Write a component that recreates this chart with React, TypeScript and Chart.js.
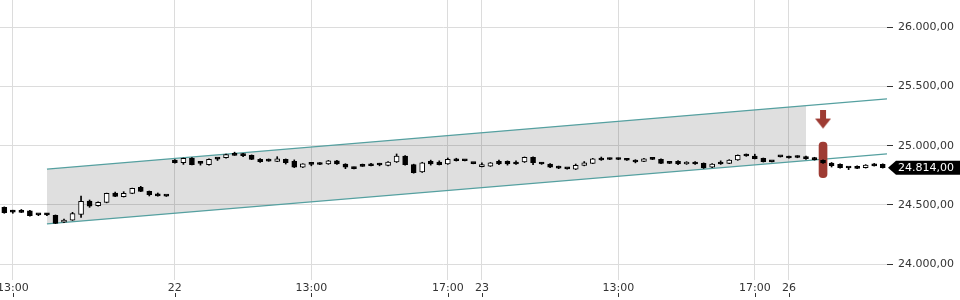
import React, { useEffect, useRef } from 'react';
import { Chart, registerables } from 'chart.js';

Chart.register(...registerables);

// 15-minute candles, index 0 = first visible candle (21st, ~12:45)
const opens = [
  24480, 24447, 24442, 24450, 24422, 24424, 24413, 24355, 24373, 24420,
  24533, 24494, 24522, 24601, 24570, 24598, 24649, 24615, 24593, 24578,
  24879, 24856, 24896, 24856, 24840, 24892, 24898, 24923, 24922, 24919,
  24885, 24874, 24868, 24885, 24868, 24818, 24847, 24846, 24845, 24873,
  24845, 24818, 24830, 24836, 24842, 24834, 24862, 24913, 24840, 24778,
  24868, 24862, 24845, 24890, 24878, 24853, 24823, 24828, 24868, 24868,
  24860, 24862, 24902, 24856, 24845, 24816, 24808, 24801, 24834, 24851,
  24896, 24887, 24887, 24881, 24879, 24868, 24896, 24885, 24862, 24868,
  24845, 24862, 24851, 24818, 24862, 24851, 24879, 24924, 24913, 24893,
  24867, 24909, 24900, 24904, 24907, 24898, 24876, 24854, 24843, 24816,
  24826, 24814, 24833, 24843,
];
const highs = [
  24484, 24456, 24462, 24454, 24424, 24430, 24416, 24382, 24438, 24575,
  24542, 24527, 24600, 24609, 24612, 24642, 24657, 24618, 24601, 24580,
  24883, 24896, 24900, 24868, 24890, 24894, 24928, 24945, 24935, 24922,
  24892, 24888, 24907, 24888, 24880, 24848, 24849, 24858, 24876, 24876,
  24848, 24820, 24845, 24850, 24852, 24865, 24930, 24916, 24844, 24860,
  24878, 24872, 24896, 24894, 24880, 24855, 24855, 24858, 24878, 24872,
  24872, 24905, 24905, 24858, 24848, 24828, 24812, 24845, 24866, 24893,
  24904, 24896, 24896, 24884, 24882, 24893, 24899, 24888, 24865, 24874,
  24865, 24866, 24855, 24848, 24872, 24882, 24922, 24930, 24928, 24896,
  24869, 24911, 24912, 24915, 24912, 24902, 24880, 24858, 24846, 24818,
  24829, 24840, 24850, 24847,
];
const lows = [
  24430, 24430, 24436, 24405, 24410, 24410, 24343, 24350, 24370, 24396,
  24480, 24490, 24518, 24570, 24567, 24595, 24612, 24576, 24574, 24572,
  24852, 24842, 24838, 24836, 24836, 24875, 24895, 24918, 24908, 24882,
  24858, 24868, 24865, 24845, 24815, 24815, 24830, 24840, 24842, 24842,
  24806, 24804, 24825, 24830, 24830, 24830, 24858, 24836, 24768, 24774,
  24836, 24837, 24842, 24870, 24872, 24847, 24820, 24825, 24840, 24836,
  24842, 24858, 24840, 24842, 24815, 24806, 24802, 24798, 24830, 24848,
  24876, 24882, 24882, 24876, 24855, 24865, 24882, 24848, 24848, 24840,
  24842, 24842, 24808, 24815, 24842, 24848, 24876, 24910, 24888, 24862,
  24862, 24904, 24895, 24898, 24884, 24878, 24850, 24820, 24811, 24798,
  24806, 24811, 24828, 24811,
];
const closes = [
  24435, 24440, 24437, 24410, 24417, 24417, 24345, 24373, 24427, 24530,
  24491, 24522, 24598, 24573, 24598, 24640, 24615, 24587, 24576, 24574,
  24856, 24893, 24840, 24850, 24885, 24887, 24924, 24918, 24916, 24885,
  24866, 24869, 24890, 24856, 24818, 24846, 24842, 24841, 24873, 24845,
  24818, 24806, 24825, 24831, 24837, 24862, 24913, 24840, 24772, 24856,
  24845, 24840, 24885, 24873, 24873, 24848, 24840, 24856, 24845, 24845,
  24845, 24902, 24856, 24845, 24818, 24811, 24804, 24834, 24856, 24890,
  24879, 24883, 24883, 24877, 24862, 24890, 24885, 24851, 24851, 24845,
  24862, 24845, 24812, 24845, 24845, 24879, 24919, 24913, 24890, 24865,
  24863, 24905, 24896, 24900, 24890, 24882, 24854, 24831, 24814, 24812,
  24809, 24837, 24829, 24814,
];

const xTickIdx = [1, 20, 36, 52, 56, 72, 88, 92];
const xTickLabels = ['13:00', '22', '13:00', '17:00', '23', '13:00', '17:00', '26'];
const yTicks = [24000, 24500, 25000, 25500, 26000];

const channelX = [5, 94, 103.5];
const channelUpper = [24803, 25338, 25395];
const channelLower = [24340, 24874, 24931];

const signalIdx = 96;
const signalArrowPrice = 25220;
const signalBar = [24730, 25030];
const lastPrice = 24814;

const X_MIN = -0.504;
const X_MAX = 103.5;
const Y_MIN = 23867.7;
const Y_MAX = 26227.6;

const RED = '#9e3b33';
const TEAL = '#55a0a0';

function fmt(v: number): string {
  const s = v.toFixed(2);
  const [i, d] = s.split('.');
  return i.replace(/\B(?=(\d{3})+(?!\d))/g, '.') + ',' + d;
}

export default function App() {
  const ref = useRef<HTMLCanvasElement | null>(null);

  useEffect(() => {
    const canvas = ref.current;
    if (!canvas) return;

    Chart.defaults.font.family = "'DejaVu Sans', sans-serif";
    Chart.defaults.font.size = 11;

    const arrow = document.createElement('canvas');
    arrow.width = 16;
    arrow.height = 20;
    const g = arrow.getContext('2d')!;
    g.fillStyle = RED;
    g.fillRect(5, 0, 6, 11);
    g.beginPath();
    g.moveTo(0, 9);
    g.lineTo(16, 9);
    g.lineTo(8, 19);
    g.closePath();
    g.fill();

    const bodyColors = opens.map((o, i) => (closes[i] >= o ? '#ffffff' : '#000000'));

    const priceLabel = {
      id: 'priceLabel',
      afterDraw(chart: any) {
        const ctx = chart.ctx;
        const ys = chart.scales.y;
        const xs = chart.scales.x;
        const y = ys.getPixelForValue(lastPrice);
        const left = chart.chartArea.right + 1;
        ctx.save();
        ctx.fillStyle = '#000';
        ctx.beginPath();
        ctx.moveTo(left, y);
        ctx.lineTo(left + 8, y - 7);
        ctx.lineTo(chart.width, y - 7);
        ctx.lineTo(chart.width, y + 7);
        ctx.lineTo(left + 8, y + 7);
        ctx.closePath();
        ctx.fill();
        ctx.fillStyle = '#fff';
        ctx.font = "11px 'DejaVu Sans', sans-serif";
        ctx.textBaseline = 'middle';
        ctx.textAlign = 'left';
        ctx.fillText(fmt(lastPrice), left + 10, y + 0.5);
        // x tick marks below labels
        ctx.strokeStyle = '#333';
        ctx.lineWidth = 1;
        xs.ticks.forEach((t: any) => {
          const px = Math.round(xs.getPixelForValue(t.value)) + 0.5;
          ctx.beginPath();
          ctx.moveTo(px, xs.bottom - 7);
          ctx.lineTo(px, xs.bottom - 3);
          ctx.stroke();
        });
        ctx.restore();
      },
    };

    const chart = new Chart(canvas, {
      type: 'bar',
      data: {
        datasets: [
          {
            type: 'bar',
            data: opens.map((o, i) => ({ x: i, y: [o, closes[i]] })) as any,
            backgroundColor: bodyColors,
            borderColor: '#000',
            borderWidth: 1,
            borderSkipped: false,
            barThickness: 5,
            minBarLength: 2,
            grouped: false,
          } as any,
          {
            type: 'bar',
            data: lows.map((l, i) => ({ x: i, y: [l, highs[i]] })) as any,
            backgroundColor: '#000',
            borderWidth: 0,
            barThickness: 1,
            grouped: false,
          } as any,
          {
            type: 'bar',
            data: [{ x: signalIdx, y: signalBar }] as any,
            backgroundColor: RED,
            borderWidth: 0,
            borderRadius: 4,
            borderSkipped: false,
            barThickness: 8,
            grouped: false,
          } as any,
          {
            type: 'line',
            data: [{ x: signalIdx, y: signalArrowPrice }] as any,
            showLine: false,
            pointStyle: arrow,
            pointRadius: 10,
          } as any,
          {
            type: 'line',
            data: [
              { x: channelX[0], y: channelUpper[0] },
              { x: channelX[2], y: channelUpper[2] },
            ] as any,
            borderColor: TEAL,
            borderWidth: 1.2,
            pointRadius: 0,
            fill: false,
          } as any,
          {
            type: 'line',
            data: [
              { x: channelX[0], y: channelLower[0] },
              { x: channelX[2], y: channelLower[2] },
            ] as any,
            borderColor: TEAL,
            borderWidth: 1.2,
            pointRadius: 0,
            fill: false,
          } as any,
          {
            type: 'line',
            data: [
              { x: channelX[0], y: channelUpper[0] },
              { x: channelX[1], y: channelUpper[1] },
            ] as any,
            borderWidth: 0,
            pointRadius: 0,
            backgroundColor: 'rgba(0,0,0,0.125)',
            fill: '+1',
          } as any,
          {
            type: 'line',
            data: [
              { x: channelX[0], y: channelLower[0] },
              { x: channelX[1], y: channelLower[1] },
            ] as any,
            borderWidth: 0,
            pointRadius: 0,
            fill: false,
          } as any,
        ],
      },
      options: {
        animation: false,
        responsive: false,
        maintainAspectRatio: false,
        layout: { padding: 0, autoPadding: false },
        plugins: { legend: { display: false }, tooltip: { enabled: false } },
        scales: {
          x: {
            type: 'linear',
            min: X_MIN,
            max: X_MAX,
            offset: false,
            grid: { color: '#dcdcdc', drawTicks: false, offset: false },
            border: { display: false },
            ticks: {
              autoSkip: false,
              maxRotation: 0,
              minRotation: 0,
              padding: 2,
              color: '#333',
              font: { size: 11 },
              callback: (v: any) => {
                const k = xTickIdx.indexOf(Number(v));
                return k >= 0 ? xTickLabels[k] : '';
              },
            },
            afterBuildTicks: (s: any) => {
              s.ticks = xTickIdx.map((v) => ({ value: v }));
            },
            afterFit: (s: any) => {
              s.height = 20;
              s.paddingLeft = 0;
              s.paddingRight = 0;
            },
          } as any,
          y: {
            type: 'linear',
            position: 'right',
            min: Y_MIN,
            max: Y_MAX,
            grid: { color: '#dcdcdc', tickColor: '#333', tickLength: 6 },
            border: { display: false },
            ticks: {
              autoSkip: false,
              padding: 5,
              color: '#333',
              font: { size: 11 },
              callback: (v: any) => fmt(Number(v)),
            },
            afterBuildTicks: (s: any) => {
              s.ticks = yTicks.map((v) => ({ value: v }));
            },
            afterFit: (s: any) => {
              s.width = 73;
              s.paddingTop = 0;
              s.paddingBottom = 0;
            },
          } as any,
        },
      },
      plugins: [priceLabel],
    });

    return () => chart.destroy();
  }, []);

  return (
    <div style={{ position: 'fixed', left: 0, top: 0, width: 960, height: 300, background: '#fff' }}>
      <canvas ref={ref} width={960} height={300} />
    </div>
  );
}
